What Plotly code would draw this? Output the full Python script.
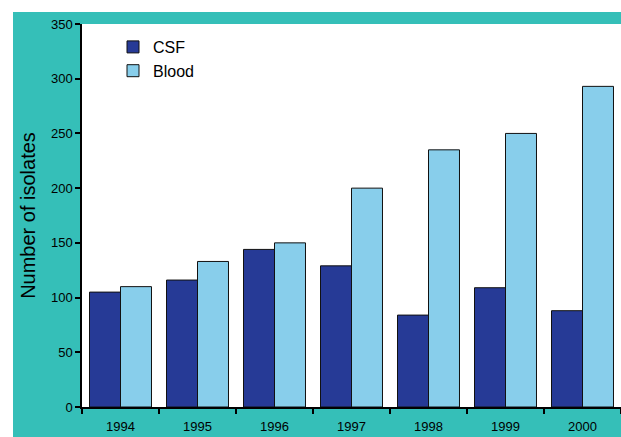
import plotly.graph_objects as go

years = ["1994", "1995", "1996", "1997", "1998", "1999", "2000"]
csf = [105, 116, 144, 129, 84, 109, 88]
blood = [110, 133, 150, 200, 235, 250, 293]
y_ticks = [0, 50, 100, 150, 200, 250, 300, 350]

TEAL = "#35BFB8"
FONT = "Liberation Sans, Arial, sans-serif"

fig = go.Figure()
fig.add_trace(go.Bar(name="CSF", x=years, y=csf, marker=dict(color="#263A96", line=dict(color="#111111", width=1))))
fig.add_trace(go.Bar(name="Blood", x=years, y=blood, marker=dict(color="#88CEEB", line=dict(color="#111111", width=1))))

W, H = 621, 437
L, R, T, B = 82, 0, 24, 30
pw, ph = W - L - R, H - T - B

def px(x):
    return (x - L) / pw

def py(y):
    return (H - B - y) / ph

fig.update_layout(
    width=W, height=H,
    margin=dict(l=L, r=R, t=T, b=B, pad=0),
    paper_bgcolor=TEAL,
    plot_bgcolor="white",
    barmode="group",
    bargap=0.195,
    bargroupgap=0,
    font=dict(family=FONT, color="black"),
    showlegend=True,
    legend=dict(x=px(113), y=py(30), xanchor="left", yanchor="top",
                bgcolor="rgba(0,0,0,0)", font=dict(size=16, family=FONT),
                itemwidth=30, tracegroupgap=0),
    shapes=[
        dict(type="rect", xref="paper", yref="paper", x0=px(-5), x1=px(W + 5), y0=py(12), y1=py(-5),
             fillcolor="white", line=dict(width=0), layer="below"),
        dict(type="rect", xref="paper", yref="paper", x0=px(-5), x1=px(13), y0=py(H + 5), y1=py(-5),
             fillcolor="white", line=dict(width=0), layer="below"),
    ],
)
fig.update_xaxes(
    type="category", showline=True, linecolor="black", linewidth=1.5,
    ticks="outside", tickson="boundaries", ticklen=5, tickcolor="black", tickwidth=1.5,
    tickfont=dict(size=13, family=FONT), ticklabelstandoff=7,
    showgrid=False, zeroline=False,
)
fig.update_yaxes(
    range=[0, 350], tickvals=y_ticks, showline=True, linecolor="black", linewidth=1.5,
    ticks="outside", ticklen=5, tickcolor="black", tickwidth=1.5,
    tickfont=dict(size=13, family=FONT), showgrid=False, zeroline=False,
    title=dict(text="Number of isolates", font=dict(size=20, family=FONT), standoff=10),
)

fig.write_html("out.html", config={"displayModeBar": False},
               post_script="document.body.style.margin='0';document.body.style.padding='0';")
